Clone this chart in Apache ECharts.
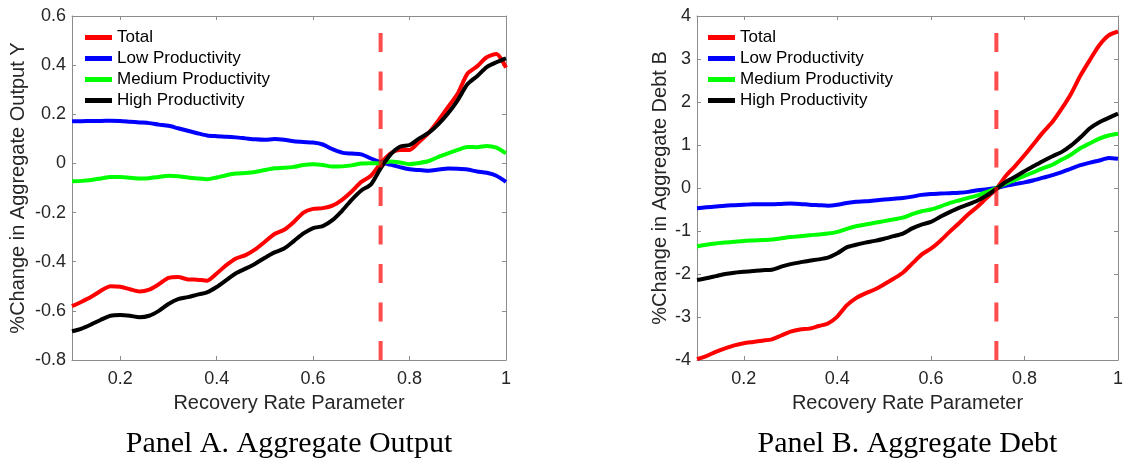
<!DOCTYPE html>
<html>
<head>
<meta charset="utf-8">
<script src="https://cdn.jsdelivr.net/npm/echarts@6/dist/echarts.min.js"></script>
<style>
html,body{margin:0;padding:0;background:#fff;}
#chart{width:1145px;height:466px;}
</style>
</head>
<body>
<div id="chart"></div>
<script>
// ---------- data ----------
const recovery = [0.10,0.12,0.14,0.16,0.18,0.20,0.22,0.24,0.26,0.28,0.30,0.32,0.34,0.36,0.38,0.40,0.42,0.44,0.46,0.48,0.50,0.52,0.54,0.56,0.58,0.60,0.62,0.64,0.66,0.68,0.70,0.72,0.74,0.76,0.78,0.80,0.82,0.84,0.86,0.88,0.90,0.92,0.94,0.96,0.98,1.00];
const seriesNames = ['Total','Low Productivity','Medium Productivity','High Productivity'];
const cutoff = 0.74;

// Panel A: % change in aggregate output Y
const outTotal  = [-0.581,-0.563,-0.543,-0.518,-0.500,-0.502,-0.512,-0.521,-0.514,-0.492,-0.466,-0.462,-0.472,-0.473,-0.477,-0.448,-0.414,-0.387,-0.373,-0.350,-0.319,-0.287,-0.270,-0.238,-0.200,-0.185,-0.182,-0.172,-0.148,-0.114,-0.075,-0.050,0.000,0.040,0.055,0.055,0.088,0.125,0.175,0.230,0.285,0.365,0.395,0.432,0.445,0.390];
const outLow    = [0.172,0.172,0.173,0.173,0.174,0.173,0.170,0.167,0.164,0.158,0.153,0.143,0.133,0.123,0.114,0.111,0.109,0.106,0.102,0.098,0.096,0.099,0.096,0.090,0.087,0.085,0.077,0.058,0.044,0.040,0.037,0.020,0.005,-0.005,-0.015,-0.024,-0.027,-0.030,-0.025,-0.021,-0.022,-0.025,-0.033,-0.038,-0.050,-0.075];
const outMedium = [-0.073,-0.071,-0.067,-0.061,-0.055,-0.055,-0.058,-0.061,-0.060,-0.055,-0.050,-0.052,-0.057,-0.061,-0.064,-0.057,-0.048,-0.041,-0.039,-0.035,-0.027,-0.020,-0.018,-0.014,-0.006,-0.003,-0.006,-0.013,-0.012,-0.008,0.000,0.001,0.000,0.008,0.004,-0.003,0.002,0.010,0.027,0.041,0.055,0.067,0.066,0.071,0.064,0.041];
const outHigh   = [-0.683,-0.672,-0.655,-0.636,-0.620,-0.617,-0.620,-0.626,-0.620,-0.600,-0.572,-0.552,-0.544,-0.534,-0.525,-0.503,-0.475,-0.447,-0.428,-0.408,-0.384,-0.362,-0.346,-0.316,-0.285,-0.263,-0.255,-0.231,-0.193,-0.148,-0.110,-0.085,-0.020,0.035,0.068,0.075,0.102,0.125,0.160,0.204,0.258,0.322,0.355,0.392,0.412,0.428];

// Panel B: % change in aggregate debt B
const debtTotal  = [-3.98,-3.91,-3.81,-3.73,-3.66,-3.61,-3.58,-3.55,-3.52,-3.43,-3.34,-3.29,-3.27,-3.21,-3.15,-2.99,-2.73,-2.56,-2.45,-2.36,-2.24,-2.11,-1.97,-1.76,-1.55,-1.41,-1.23,-1.02,-0.82,-0.61,-0.43,-0.22,-0.02,0.28,0.51,0.76,1.03,1.30,1.54,1.85,2.20,2.62,2.98,3.32,3.55,3.64];
const debtLow    = [-0.47,-0.45,-0.43,-0.41,-0.40,-0.39,-0.38,-0.38,-0.38,-0.37,-0.36,-0.37,-0.39,-0.40,-0.41,-0.39,-0.35,-0.32,-0.31,-0.29,-0.27,-0.25,-0.23,-0.20,-0.16,-0.14,-0.13,-0.12,-0.11,-0.09,-0.05,-0.03,0.00,0.05,0.09,0.13,0.18,0.24,0.30,0.37,0.45,0.53,0.59,0.64,0.70,0.68];
const debtMedium = [-1.36,-1.32,-1.29,-1.27,-1.25,-1.23,-1.22,-1.21,-1.20,-1.17,-1.14,-1.12,-1.10,-1.08,-1.06,-1.02,-0.95,-0.89,-0.85,-0.81,-0.77,-0.73,-0.69,-0.61,-0.54,-0.50,-0.43,-0.35,-0.29,-0.23,-0.17,-0.09,0.00,0.10,0.19,0.28,0.37,0.46,0.54,0.66,0.78,0.93,1.04,1.15,1.22,1.26];
const debtHigh   = [-2.14,-2.10,-2.05,-2.00,-1.97,-1.95,-1.93,-1.91,-1.90,-1.83,-1.77,-1.73,-1.69,-1.66,-1.62,-1.52,-1.38,-1.32,-1.27,-1.23,-1.18,-1.12,-1.06,-0.94,-0.85,-0.79,-0.67,-0.56,-0.46,-0.38,-0.29,-0.17,-0.02,0.14,0.26,0.39,0.51,0.63,0.74,0.84,0.99,1.18,1.39,1.53,1.63,1.73];

const xTicks = [0.2,0.4,0.6,0.8,1.0];
const panelTitles = ['Panel A. Aggregate Output','Panel B. Aggregate Debt'];
const yNames = ['%Change in Aggregate Output Y','%Change in Aggregate Debt B'];
const xName = 'Recovery Rate Parameter';
const yRangeA = {min:-0.8, max:0.6, interval:0.2};
const yRangeB = {min:-4, max:4, interval:1};

// ---------- styling ----------
const colors = ['#ff0000','#0000ff','#00ff00','#000000'];
const SANS = '"Liberation Sans", Arial, Helvetica, sans-serif';
const SERIF = '"Liberation Serif", "DejaVu Serif", serif';
const axisGray = '#8c8c8c';
const textCol = '#262626';

const grids = [
  {left:72, top:16, width:434, height:344},
  {left:697, top:16, width:421, height:344}
];

function fmtX(v){ return String(+(+v).toFixed(1)); }
function fmtY(v){ const r = +(+v).toFixed(1); return r === 0 ? '0' : (Number.isInteger(r) ? String(r) : r.toFixed(1)); }

const xAxes = [], yAxes = [];
[0,1].forEach(g => {
  xAxes.push({
    gridIndex:g, type:'value', min:0.1, max:1, position:'bottom',
    axisLine:{show:true, onZero:false, lineStyle:{color:axisGray, width:1}},
    axisTick:{show:true, inside:true, length:4, customValues:xTicks, lineStyle:{color:axisGray}},
    axisLabel:{show:true, customValues:xTicks, formatter:fmtX, fontSize:18, color:textCol, fontFamily:SANS, margin:10},
    splitLine:{show:false},
    name:xName, nameLocation:'middle', nameGap:33,
    nameTextStyle:{fontSize:20, color:textCol, fontFamily:SANS}
  });
  xAxes.push({
    gridIndex:g, type:'value', min:0.1, max:1, position:'top',
    axisLine:{show:true, onZero:false, lineStyle:{color:axisGray, width:1}},
    axisTick:{show:true, inside:true, length:4, customValues:xTicks, lineStyle:{color:axisGray}},
    axisLabel:{show:false}, splitLine:{show:false}
  });
  const r = g === 0 ? yRangeA : yRangeB;
  yAxes.push({
    gridIndex:g, type:'value', min:r.min, max:r.max, interval:r.interval, position:'left',
    axisLine:{show:true, onZero:false, lineStyle:{color:axisGray, width:1}},
    axisTick:{show:true, inside:true, length:4, lineStyle:{color:axisGray}},
    axisLabel:{show:true, formatter:fmtY, fontSize:18, color:textCol, fontFamily:SANS, margin:6},
    splitLine:{show:false},
    name:yNames[g], nameLocation:'middle', nameRotate:90, nameGap: g === 0 ? 44 : 27,
    nameTextStyle:{fontSize:20, color:textCol, fontFamily:SANS}
  });
  yAxes.push({
    gridIndex:g, type:'value', min:r.min, max:r.max, interval:r.interval, position:'right',
    axisLine:{show:true, onZero:false, lineStyle:{color:axisGray, width:1}},
    axisTick:{show:true, inside:true, length:4, lineStyle:{color:axisGray}},
    axisLabel:{show:false}, splitLine:{show:false}
  });
});

function pair(vals){ return recovery.map((x,i) => [x, vals[i]]); }

const panelData = [
  [outTotal, outLow, outMedium, outHigh],
  [debtTotal, debtLow, debtMedium, debtHigh]
];

const series = [];
panelData.forEach((arrs, g) => {
  arrs.forEach((vals, k) => {
    series.push({
      name: seriesNames[k], type:'line',
      xAxisIndex: g*2, yAxisIndex: g*2,
      data: pair(vals), symbol:'none', smooth:0.25,
      lineStyle:{color:colors[k], width:4},
      itemStyle:{color:colors[k]},
      z: 2, animation:false
    });
  });
  const r = g === 0 ? yRangeA : yRangeB;
  series.push({
    name:'cutoff', type:'line', xAxisIndex:g*2, yAxisIndex:g*2,
    data:[[cutoff, r.min],[cutoff, r.max]], symbol:'none',
    lineStyle:{color:'rgba(255,0,0,0.7)', width:4, type:[19,19.5]},
    z:5, animation:false, silent:true
  });
});

const legendCommon = {
  orient:'vertical', data:seriesNames, selectedMode:false, padding:0,
  icon:'rect', itemWidth:27, itemHeight:5, itemGap:4,
  textStyle:{fontSize:17, color:'#000', fontFamily:SANS, lineHeight:17}
};

const chart = echarts.init(document.getElementById('chart'), null, {renderer:'canvas'});
chart.setOption({
  backgroundColor:'#fff',
  animation:false,
  grid: grids,
  xAxis: xAxes,
  yAxis: yAxes,
  legend: [
    Object.assign({left:85, top:29}, legendCommon),
    Object.assign({left:708, top:29}, legendCommon)
  ],
  series: series,
  graphic: [
    {type:'text', x:grids[0].left + grids[0].width/2, y:444,
     style:{text:panelTitles[0], fontFamily:SERIF, fontSize:30, fill:'#000', textAlign:'center', textVerticalAlign:'middle'}},
    {type:'text', x:grids[1].left + grids[1].width/2, y:444,
     style:{text:panelTitles[1], fontFamily:SERIF, fontSize:30, fill:'#000', textAlign:'center', textVerticalAlign:'middle'}}
  ]
});
</script>
</body>
</html>
